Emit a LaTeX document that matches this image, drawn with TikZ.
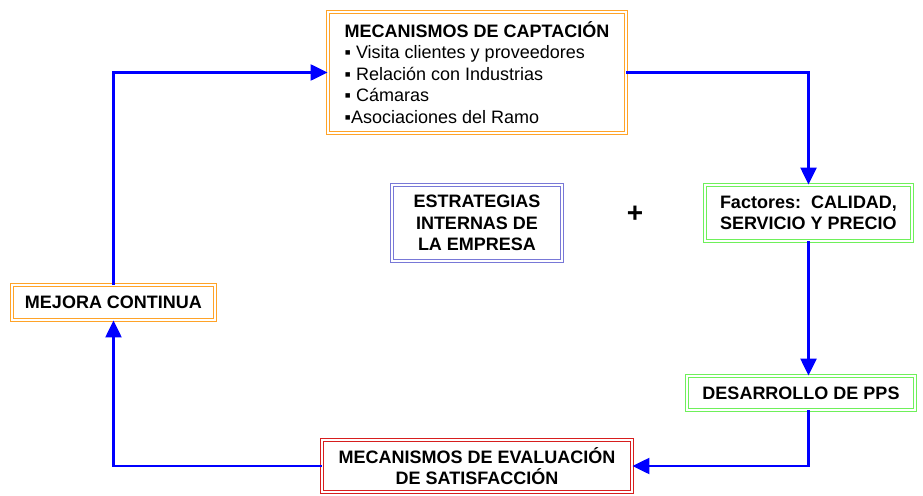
\documentclass[tikz,border=0pt]{standalone}
\usepackage{fontspec}
\setmainfont{Liberation Sans}
\usetikzlibrary{arrows.meta}

\definecolor{captorange}{RGB}{255,163,40}
\definecolor{factgreen}{RGB}{110,240,90}
\definecolor{estrblue}{RGB}{120,120,215}
\definecolor{evalred}{RGB}{215,30,30}
\definecolor{linkblue}{RGB}{0,0,255}

\begin{document}
\begin{tikzpicture}[x=1pt,y=-1pt,
    box/.style={draw,double=white,line width=0.9pt,double distance=1.6pt,inner sep=0pt,
      font=\fontsize{18}{21.5}\selectfont\bfseries},
    link/.style={draw=linkblue,line width=2.4pt,-{Triangle[length=17pt,width=16pt]}}]
    \useasboundingbox (0,0) rectangle (923,495);

    \node[box,draw=captorange,align=left,minimum width=298,minimum height=121] (capt) at (477,72.5)
      {MECANISMOS DE CAPTACIÓN\\\mdseries ▪ Visita clientes y proveedores\\\mdseries ▪ Relación con Industrias\\\mdseries ▪ Cámaras\\\mdseries ▪Asociaciones del Ramo};
    \node[box,draw=estrblue,align=center,minimum width=170,minimum height=76] (estr) at (477,223)
      {ESTRATEGIAS\\INTERNAS DE\\LA EMPRESA};
    \node[font=\fontsize{28}{28}\selectfont\bfseries] (plus) at (635,214) {+};
    \node[box,draw=factgreen,align=left,minimum width=207,minimum height=56] (fact) at (808.5,213)
      {Factores:\ \ CALIDAD,\\SERVICIO Y PRECIO};
    \node[box,draw=factgreen,minimum width=228,minimum height=34] (desa) at (801,393)
      {DESARROLLO DE PPS};
    \node[box,draw=evalred,align=center,minimum width=310,minimum height=52] (eval) at (477,466)
      {MECANISMOS DE EVALUACIÓN\\DE SATISFACCIÓN};
    \node[box,draw=captorange,minimum width=203,minimum height=35] (mejora) at (113.5,302.5)
      {MEJORA CONTINUA};

    \draw[link] (capt) -| (fact);
    \draw[link] (fact) -- (fact |- desa.north);
    \draw[link] (fact |- desa.south) |- (eval);
    \draw[link] (eval) -| (mejora);
    \draw[link] (mejora) |- (capt);
\end{tikzpicture}
\end{document}
